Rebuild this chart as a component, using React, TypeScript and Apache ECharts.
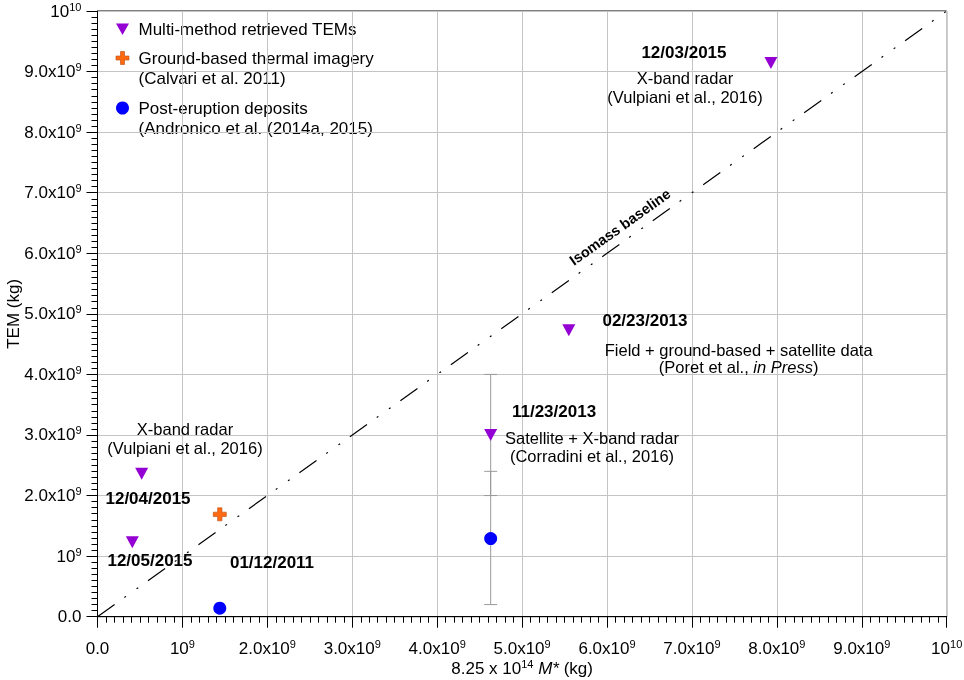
import React, { useEffect, useRef } from 'react';
import * as echarts from 'echarts';

const FONT = '"Liberation Sans", Arial, sans-serif';

// Multi-method retrieved TEMs (kg)
const temX = [7.93e9, 5.55e9, 4.63e9, 0.52e9, 0.41e9];
const temY = [9.14e9, 4.73e9, 3.0e9, 2.36e9, 1.23e9];
// Ground-based thermal imagery
const thermalX = [1.44e9];
const thermalY = [1.69e9];
// Post-eruption deposits
const depositX = [1.44e9, 4.63e9];
const depositY = [0.14e9, 1.29e9];
// Error bars: x, low, high
const errX = [4.63e9, 4.63e9];
const errLow = [2.0e9, 0.2e9];
const errHigh = [4.0e9, 2.4e9];
// Isomass baseline
const isoX = [0, 1e10];
const isoY = [0, 1e10];

// tick labels: [mantissa, exponent]
const tickLabels: [string, string][] = [
  ['0.0', ''],
  ['10', '9'],
  ['2.0x10', '9'],
  ['3.0x10', '9'],
  ['4.0x10', '9'],
  ['5.0x10', '9'],
  ['6.0x10', '9'],
  ['7.0x10', '9'],
  ['8.0x10', '9'],
  ['9.0x10', '9'],
  ['10', '10'],
];

// annotation texts, positions (data units) and weight
const annoText = [
  '12/03/2015',
  'X-band radar',
  '(Vulpiani et al., 2016)',
  '02/23/2013',
  'Field + ground-based + satellite data\n(Poret et al., {i|in Press})',
  '11/23/2013',
  'Satellite + X-band radar',
  '(Corradini et al., 2016)',
  'X-band radar',
  '(Vulpiani et al., 2016)',
  '12/04/2015',
  '12/05/2015',
  '01/12/2011',
];
const annoX = [6.906e9, 6.918e9, 6.918e9, 6.447e9, 7.55e9, 5.376e9, 5.823e9, 5.823e9, 1.03e9, 1.03e9, 0.595e9, 0.618e9, 2.055e9];
const annoY = [9.322e9, 8.893e9, 8.58e9, 4.898e9, 4.27e9, 3.384e9, 2.955e9, 2.658e9, 3.091e9, 2.777e9, 1.959e9, 0.92e9, 0.887e9];
const annoBold = [true, false, false, true, false, true, false, false, false, false, true, true, true];
const isoLabel = { text: 'Isomass baseline', x: 6.153e9, y: 6.434e9 };

const legendItems = [
  ['Multi-method retrieved TEMs'],
  ['Ground-based thermal imagery', '(Calvari et al. 2011)'],
  ['Post-eruption deposits', '(Andronico et al. (2014a, 2015)'],
];

const PURPLE = '#9400d3';
const ORANGE = '#ff6a10';
const BLUE = '#0000ff';
const TRI = 'path://M0,0L12,0L6,11Z';
const CROSS = 'path://M4,0H8V4H12V8H8V12H4V8H0V4H4Z';

const tickRich = {
  n: { fontSize: 17, lineHeight: 20, fontFamily: FONT, color: '#000' },
  s: { fontSize: 11, lineHeight: 11, verticalAlign: 'top', fontFamily: FONT, color: '#000' },
};

function fmtTick(v: number) {
  const i = Math.round(v / 1e9);
  const t = tickLabels[i];
  if (!t) return '';
  return t[1] ? `{n|${t[0]}}{s|${t[1]}}` : `{n|${t[0]}}`;
}

function baseAxis() {
  return {
    type: 'value',
    min: 0,
    max: 1e10,
    interval: 1e9,
    axisLine: { show: true, onZero: false, lineStyle: { color: '#000', width: 1 } },
    axisTick: { show: true, length: 11, lineStyle: { color: '#000', width: 1 } },
    minorTick: { show: true, splitNumber: 10, length: 6, lineStyle: { color: '#000', width: 1 } },
    splitLine: { show: true, lineStyle: { color: '#c4c4c4', width: 1 } },
    axisLabel: { formatter: fmtTick, rich: tickRich, color: '#000', showMinLabel: true, showMaxLabel: true },
    nameLocation: 'middle',
    nameMoveOverlap: false,
  };
}

export default function App() {
  const ref = useRef<HTMLDivElement>(null);
  useEffect(() => {
    if (!ref.current) return;
    const chart = echarts.init(ref.current, null, { renderer: 'svg' });

    const legendGraphics: any[] = [];
    const lx = 122.5;
    const ly = [29, 58, 108];
    legendGraphics.push({
      type: 'polygon',
      shape: { points: [[lx - 6.5, ly[0] - 5.5], [lx + 6.5, ly[0] - 5.5], [lx, ly[0] + 6]] },
      style: { fill: PURPLE },
    });
    legendGraphics.push({
      type: 'polygon',
      shape: {
        points: [
          [lx - 2, ly[1] - 6.5], [lx + 2, ly[1] - 6.5], [lx + 2, ly[1] - 2], [lx + 6.5, ly[1] - 2],
          [lx + 6.5, ly[1] + 2], [lx + 2, ly[1] + 2], [lx + 2, ly[1] + 6.5], [lx - 2, ly[1] + 6.5],
          [lx - 2, ly[1] + 2], [lx - 6.5, ly[1] + 2], [lx - 6.5, ly[1] - 2], [lx - 2, ly[1] - 2],
        ],
      },
      style: { fill: ORANGE, stroke: '#b84a10', lineWidth: 0.6 },
    });
    legendGraphics.push({ type: 'circle', shape: { cx: lx, cy: ly[2], r: 6.5 }, style: { fill: BLUE } });
    legendItems.forEach((lines, k) => {
      lines.forEach((line, j) => {
        legendGraphics.push({
          type: 'text',
          x: 138.5,
          y: ly[k] + j * 20,
          style: { text: line, fill: '#000', font: `17px ${FONT}`, verticalAlign: 'middle', align: 'left' },
        });
      });
    });

    const annoData: any[] = annoText.map((t, i) => ({
      value: [annoX[i], annoY[i]],
      name: t,
      label: annoBold[i]
        ? { fontWeight: 'bold', fontSize: 17, lineHeight: 17 }
        : { fontWeight: 'normal', fontSize: 16.5, lineHeight: 17 },
    }));
    annoData.push({
      value: [isoLabel.x, isoLabel.y],
      name: isoLabel.text,
      label: { fontWeight: 'bold', rotate: 35.5, fontSize: 14.5 },
    });

    const xAxis: any = baseAxis();
    xAxis.name = '{n|8.25 x 10}{s|14}{n| }{i|M*}{n| (kg)}';
    xAxis.nameGap = 42;
    xAxis.nameTextStyle = {
      rich: {
        n: { fontSize: 17, lineHeight: 20, fontFamily: FONT, color: '#000' },
        s: { fontSize: 11, lineHeight: 11, verticalAlign: 'top', fontFamily: FONT, color: '#000' },
        i: { fontSize: 17, lineHeight: 20, fontStyle: 'italic', fontFamily: FONT, color: '#000' },
      },
    };
    xAxis.axisLabel.margin = 22;

    const yAxis: any = baseAxis();
    yAxis.name = 'TEM (kg)';
    yAxis.nameGap = 76;
    yAxis.nameTextStyle = { fontSize: 17, fontFamily: FONT, color: '#000' };
    yAxis.axisLabel.margin = 16;

    chart.setOption({
      animation: false,
      textStyle: { fontFamily: FONT },
      grid: {
        left: 97.5, right: 17.3, top: 11, bottom: 63.3,
        show: true, borderColor: '#000', borderWidth: 1,
        containLabel: false, outerBoundsMode: 'none',
      },
      xAxis,
      yAxis,
      graphic: legendGraphics,
      series: [
        {
          name: 'Isomass baseline',
          type: 'line',
          data: isoX.map((x, i) => [x, isoY[i]]),
          symbol: 'none',
          lineStyle: { color: '#000', width: 1.2, type: [21, 12, 2, 13, 2, 12] },
          z: 2,
        },
        {
          name: 'Error bars',
          type: 'custom',
          data: errX.map((x, i) => [x, errLow[i], errHigh[i]]),
          encode: { x: 0, y: [1, 2] },
          z: 3,
          renderItem: (params: any, api: any) => {
            const x = api.value(0);
            const p1 = api.coord([x, api.value(1)]);
            const p2 = api.coord([x, api.value(2)]);
            const hw = 6.5;
            const st = { stroke: '#9a9a9a', lineWidth: 1 };
            return {
              type: 'group',
              children: [
                { type: 'line', shape: { x1: p1[0], y1: p1[1], x2: p2[0], y2: p2[1] }, style: st },
                { type: 'line', shape: { x1: p1[0] - hw, y1: p1[1], x2: p1[0] + hw, y2: p1[1] }, style: st },
                { type: 'line', shape: { x1: p2[0] - hw, y1: p2[1], x2: p2[0] + hw, y2: p2[1] }, style: st },
              ],
            };
          },
        },
        {
          name: 'Multi-method retrieved TEMs',
          type: 'scatter',
          data: temX.map((x, i) => [x, temY[i]]),
          symbol: TRI,
          symbolSize: [13, 12],
          itemStyle: { color: PURPLE, opacity: 1 },
          z: 5,
        },
        {
          name: 'Ground-based thermal imagery',
          type: 'scatter',
          data: thermalX.map((x, i) => [x, thermalY[i]]),
          symbol: CROSS,
          symbolSize: 13,
          itemStyle: { color: ORANGE, borderColor: '#b84a10', borderWidth: 0.6, opacity: 1 },
          z: 5,
        },
        {
          name: 'Post-eruption deposits',
          type: 'scatter',
          data: depositX.map((x, i) => [x, depositY[i]]),
          symbol: 'circle',
          symbolSize: 13,
          itemStyle: { color: BLUE, opacity: 1 },
          z: 5,
        },
        {
          name: 'Annotations',
          type: 'scatter',
          data: annoData,
          symbolSize: 0,
          silent: true,
          z: 6,
          label: {
            show: true,
            position: 'inside',
            formatter: '{b}',
            color: '#000',
            fontSize: 16.5,
            fontFamily: FONT,
            align: 'center',
            verticalAlign: 'middle',
            textBorderWidth: 0,
            textBorderColor: 'transparent',
            opacity: 1,
            rich: { i: { fontStyle: 'italic', fontSize: 16.5, lineHeight: 17, fontFamily: FONT, color: '#000' } },
          },
        },
      ],
    });
    return () => chart.dispose();
  }, []);
  return <div ref={ref} style={{ position: 'fixed', left: 0, top: 0, width: 964, height: 680 }} />;
}
